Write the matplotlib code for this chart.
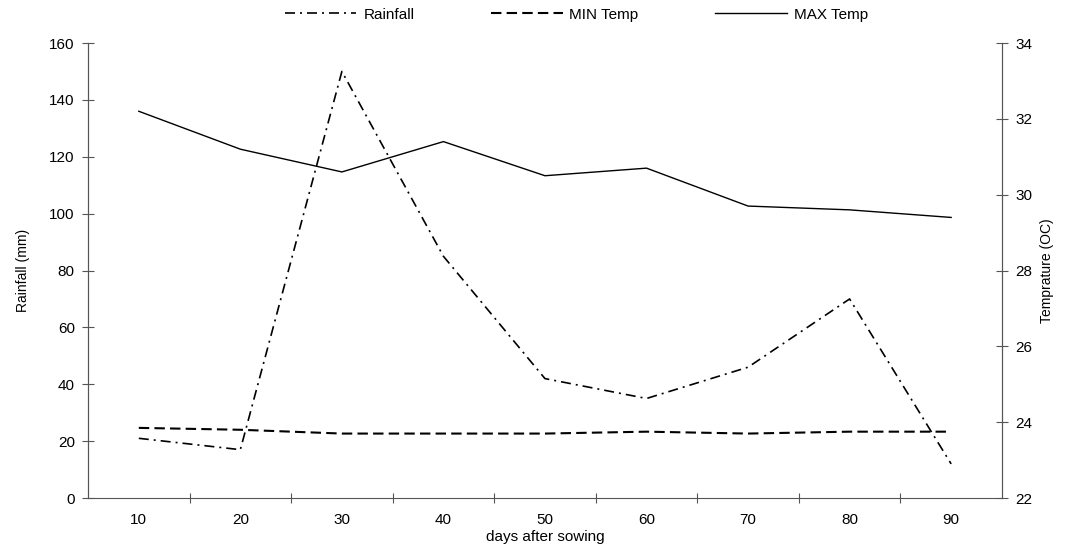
import matplotlib.pyplot as plt

plt.rcParams['font.family'] = ['Liberation Sans', 'DejaVu Sans']

# data
days = ['10', '20', '30', '40', '50', '60', '70', '80', '90']
rainfall = [21, 17, 150, 85, 42, 35, 46, 70, 12]
min_temp = [23.85, 23.8, 23.7, 23.7, 23.7, 23.75, 23.7, 23.75, 23.75]
max_temp = [32.2, 31.2, 30.6, 31.4, 30.5, 30.7, 29.7, 29.6, 29.4]

fig = plt.figure(figsize=(10.67, 5.48), dpi=100)
ax = fig.add_axes([0.0825, 0.0912, 0.8565, 0.8303])
ax2 = ax.twinx()

x = range(len(days))
l1, = ax.plot(x, rainfall, color='black', lw=1.2, dashes=(6, 3, 1.2, 3))
l2, = ax2.plot(x, min_temp, color='black', lw=1.5, dashes=(5, 2.5))
l3, = ax2.plot(x, max_temp, color='black', lw=1.0)

ax.set_xlim(-0.5, 8.5)
ax.set_ylim(0, 160)
ax.set_yticks(range(0, 161, 20))
ax2.set_ylim(22, 34)
ax2.set_yticks(range(22, 35, 2))

# ticks between categories, labels at category centres
ax.set_xticks([i - 0.5 for i in range(1, 9)])
ax.set_xticklabels([])
ax.set_xticks(list(x), minor=True)
ax.set_xticklabels(days, minor=True)
ax.tick_params(axis='x', which='minor', length=0, labelsize=11, pad=11)
ax.tick_params(axis='x', which='major', direction='inout', length=7, color='#555555')
ax.tick_params(axis='y', direction='inout', length=9, labelsize=11, color='#555555', pad=5)
ax2.tick_params(axis='y', direction='inout', length=9, labelsize=11, color='#555555', pad=5)

for a in (ax, ax2):
    a.spines['top'].set_visible(False)
    for s in ('left', 'right', 'bottom'):
        a.spines[s].set_color('#555555')
ax2.spines['bottom'].set_visible(False)

ax.set_xlabel('days after sowing', fontsize=11, labelpad=2)
ax.set_ylabel('Rainfall (mm)', fontsize=10, labelpad=14)
ax2.set_ylabel('Temprature (OC)', fontsize=10, labelpad=6)

fig.legend([l1, l2, l3], ['Rainfall', 'MIN Temp', 'MAX Temp'],
           loc='center', bbox_to_anchor=(0.54, 0.973), ncol=3, frameon=False,
           fontsize=11, handlelength=4.7, handletextpad=0.45, columnspacing=5.0)

plt.savefig('out.png', dpi=100)
